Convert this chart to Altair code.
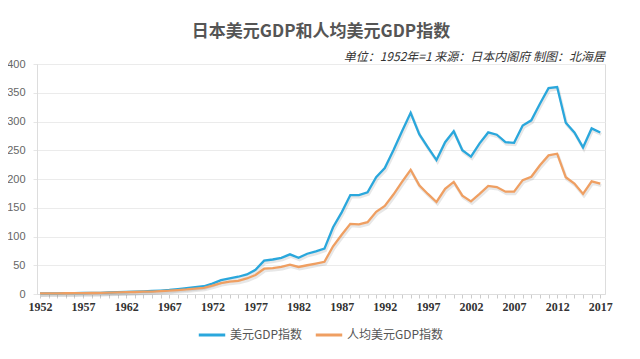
import altair as alt
import pandas as pd

years = list(range(1952, 2018))

gdp_index = [1.0, 1.1, 1.2, 1.4, 1.5, 1.7, 1.9, 2.1, 2.6, 3.1, 3.5, 4.0, 4.6, 5.2,
             6.0, 7.0, 8.5, 10.0, 11.8, 13.5, 18.0, 24.0, 27.0, 30.0, 34.0, 42.0,
             58.0, 60.0, 63.0, 69.0, 63.0, 70.0, 74.0, 79.0, 116.0, 142.0, 172.0,
             172.0, 177.0, 203.0, 219.0, 250.0, 283.0, 315.0, 278.0, 255.0, 233.0,
             264.0, 283.0, 250.0, 239.0, 262.0, 281.0, 277.0, 264.0, 263.0, 293.0,
             302.0, 331.0, 358.0, 360.0, 298.0, 281.0, 255.0, 288.0, 281.0]

per_capita_index = [1.0, 1.1, 1.2, 1.3, 1.4, 1.6, 1.7, 1.9, 2.3, 2.8, 3.1, 3.5, 4.0, 4.3,
                    4.9, 5.7, 6.9, 8.0, 9.5, 10.8, 14.5, 19.0, 21.5, 23.0, 27.0, 33.0,
                    44.0, 45.0, 47.0, 51.0, 47.0, 50.0, 53.0, 56.0, 83.0, 103.0, 122.0,
                    121.0, 125.0, 143.0, 153.0, 173.0, 195.0, 216.0, 189.0, 174.0, 160.0,
                    183.0, 195.0, 171.0, 161.0, 174.0, 188.0, 186.0, 178.0, 178.0, 198.0,
                    204.0, 224.0, 241.0, 244.0, 203.0, 192.0, 174.0, 196.0, 192.0]

series_names = ["美元GDP指数", "人均美元GDP指数"]
series_colors = ["#2aa7dc", "#ef9f62"]
x_label_years = [1952, 1957, 1962, 1967, 1972, 1977, 1982, 1987, 1992, 1997, 2002, 2007, 2012, 2017]
y_ticks = [0, 50, 100, 150, 200, 250, 300, 350, 400]

title_text = "日本美元GDP和人均美元GDP指数"
subtitle_text = "单位：1952年=1 来源：日本内阁府 制图：北海居"

df = pd.concat([
    pd.DataFrame({"year": years, "value": gdp_index, "series": series_names[0]}),
    pd.DataFrame({"year": years, "value": per_capita_index, "series": series_names[1]}),
])

W, H = 568, 230
cjk = "Noto Sans CJK SC"

x_enc = alt.X("year:Q",
              scale=alt.Scale(domain=[1951.65, 2017.55], nice=False, zero=False),
              axis=alt.Axis(values=years, title=None,
                            labelExpr="indexof(" + str(x_label_years) + ", datum.value) >= 0 ? datum.label : ''",
                            format="d", labelOverlap=False, labelFlush=False,
                            labelFont="Liberation Sans Narrow", labelFontWeight="bold",
                            labelFontSize=12, labelColor="#333333", labelPadding=3,
                            tickSize=4, tickColor="#cccccc", domainColor="#dddddd",
                            grid=False))
y_enc = alt.Y("value:Q",
              scale=alt.Scale(domain=[0, 400], nice=False),
              axis=alt.Axis(values=y_ticks, title=None, labelFont="Liberation Sans",
                            labelFontSize=11, labelColor="#666666", labelPadding=8,
                            tickSize=4, tickColor="#e6e6e6", domainColor="#dddddd",
                            gridColor="#ebebeb", grid=True))

shadow = alt.Chart(df).mark_line(strokeWidth=3, color="#888888", opacity=0.2,
                                 xOffset=1, yOffset=2).encode(
    x=x_enc, y=y_enc, detail="series:N")

lines = alt.Chart(df).mark_line(strokeWidth=2.3).encode(
    x=x_enc, y=y_enc,
    color=alt.Color("series:N",
                    scale=alt.Scale(domain=series_names, range=series_colors),
                    sort=series_names,
                    legend=alt.Legend(title=None, orient="none", direction="horizontal",
                                      legendX=160, legendY=256,
                                      symbolType="stroke", symbolSize=700,
                                      symbolStrokeWidth=3, labelFont=cjk,
                                      labelFontSize=12, labelColor="#555555",
                                      labelOffset=3, columnPadding=6)))

texts = pd.DataFrame({"t": [title_text, subtitle_text]})

title = alt.Chart(texts.iloc[[0]]).mark_text(
    align="center", baseline="middle", fontSize=17, fontWeight="bold",
    font=cjk, color="#555555").encode(
    x=alt.value(W / 2), y=alt.value(-32), text="t:N")

sub = alt.Chart(texts.iloc[[1]]).mark_text(
    align="right", baseline="middle", fontStyle="italic", fontSize=12,
    font=cjk, color="#333333").encode(
    x=alt.value(W), y=alt.value(-7), text="t:N")

chart = alt.layer(shadow, lines, title, sub).properties(
    width=W, height=H,
    autosize=alt.AutoSizeParams(type="none"),
    padding={"left": 29, "top": 56, "right": 27, "bottom": 57},
).configure_view(stroke=None).configure(background="white")

chart.save("out.html", embed_options={"renderer": "svg", "actions": False})
